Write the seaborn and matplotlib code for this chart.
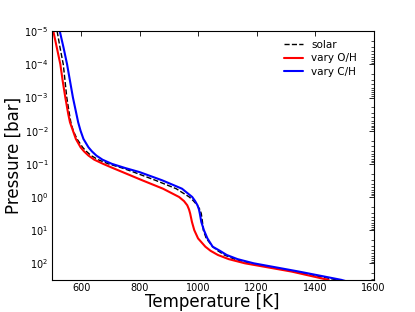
import matplotlib
matplotlib.use("Agg")
import matplotlib.pyplot as plt
import seaborn as sns
import numpy as np
import pandas as pd

# pressure levels (log10 bar) shared by the three profiles
log_p = [-5, -4.5, -4, -3.5, -3, -2.5, -2.25, -2, -1.75, -1.5, -1.375, -1.25,
         -1.125, -1, -0.875, -0.75, -0.5, -0.25, 0, 0.125, 0.25, 0.375, 0.5,
         0.75, 1, 1.25, 1.5, 1.625, 1.75, 1.875, 2, 2.25, 2.5, 2.6]

# temperatures [K]
t_solar = [518, 528, 539, 545, 551, 560, 565, 573, 586, 605, 618, 634,
           658, 693, 740, 780, 855, 925, 970, 985, 997, 1006, 1011,
           1015, 1018, 1028, 1050, 1068, 1090, 1125, 1180, 1330, 1475, 1515]
t_vary_oh = [505, 517, 529, 537, 546, 556, 562, 572, 582, 598, 610, 625,
             645, 675, 708, 742, 810, 880, 935, 952, 963, 969, 973,
             979, 987, 1000, 1025, 1043, 1068, 1105, 1160, 1320, 1445, 1462]
t_vary_ch = [527, 540, 552, 562, 572, 584, 590, 598, 608, 625, 637, 652,
             673, 705, 750, 800, 878, 945, 980, 990, 998, 1003, 1006,
             1011, 1020, 1032, 1050, 1075, 1098, 1135, 1190, 1345, 1490, 1530]

pressure = 10.0 ** np.array(log_p)

sns.set_style("white")
plt.rcParams["font.family"] = ["DejaVu Sans"]
plt.rcParams["text.color"] = "black"
plt.rcParams["axes.labelcolor"] = "black"
plt.rcParams["xtick.color"] = "black"
plt.rcParams["ytick.color"] = "black"

fig = plt.figure(figsize=(4.15, 3.12), dpi=100)
ax = fig.add_axes([0.125, 0.103, 0.775, 0.797])

df = pd.DataFrame({"T": t_solar, "P": pressure})
sns.lineplot(data=df, x="T", y="P", sort=False, estimator=None, ax=ax,
             color="black", lw=1.0, linestyle="--", label="solar")
df = pd.DataFrame({"T": t_vary_oh, "P": pressure})
sns.lineplot(data=df, x="T", y="P", sort=False, estimator=None, ax=ax,
             color="red", lw=1.5, label="vary O/H")
df = pd.DataFrame({"T": t_vary_ch, "P": pressure})
sns.lineplot(data=df, x="T", y="P", sort=False, estimator=None, ax=ax,
             color="blue", lw=1.5, label="vary C/H")

ax.set_yscale("log")
ax.set_ylim(10 ** 2.5, 1e-5)
ax.set_xlim(500, 1600)
ax.set_xticks([600, 800, 1000, 1200, 1400, 1600])

ax.tick_params(which="both", direction="in", top=True, right=True,
               labelsize=7, pad=2.5)
ax.tick_params(which="major", length=3.5, width=0.6)
ax.tick_params(which="minor", length=2, width=0.5)
for s in ax.spines.values():
    s.set_linewidth(0.8)
    s.set_color("black")

ax.set_xlabel("Temperature [K]", fontsize=12, labelpad=0)
ax.set_ylabel("Pressure [bar]", fontsize=12, labelpad=1)

ax.legend(loc="upper right", bbox_to_anchor=(0.975, 1.0), frameon=False,
          fontsize=7.5, handlelength=1.8, borderaxespad=0.4, labelspacing=0.35)

fig.savefig("out.png", dpi=100)
